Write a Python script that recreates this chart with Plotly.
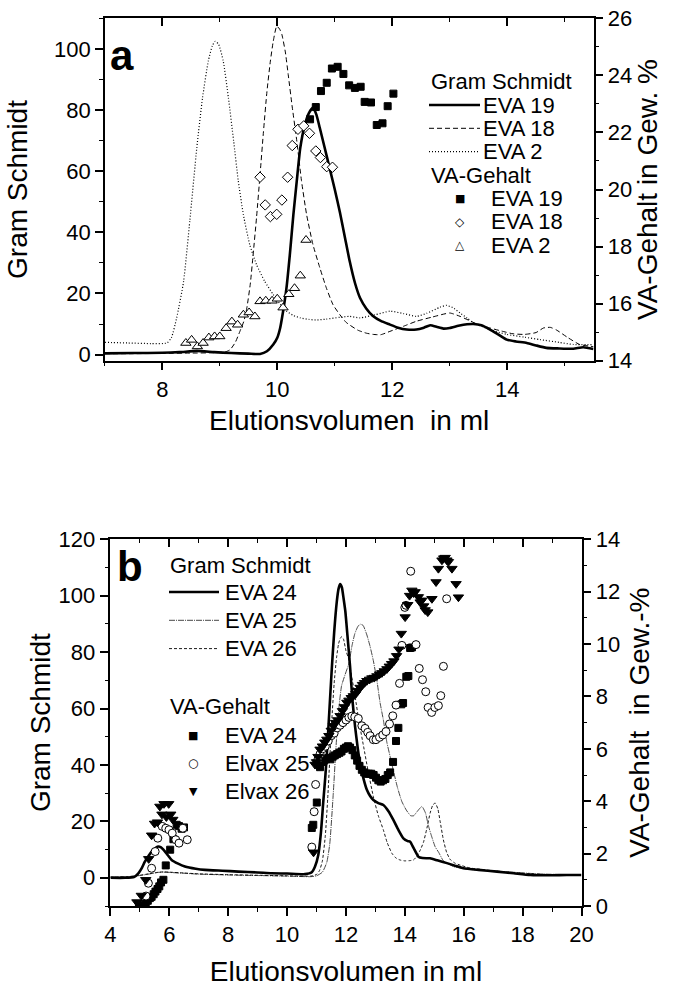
import plotly.graph_objects as go

W, H = 677, 987
FONT = "Arial, Liberation Sans, Helvetica, sans-serif"

# ---------------- Panel a : Gram Schmidt traces (left axis) ----------------
a_eva19_x = [7.0, 7.5, 8.0, 8.3, 8.6, 8.9, 9.2, 9.5, 9.7, 9.82, 9.93, 10.0, 10.05, 10.1, 10.16, 10.22,
             10.28, 10.34, 10.4, 10.48, 10.55, 10.62, 10.68, 10.74, 10.82, 10.91, 11.0, 11.09, 11.18,
             11.26, 11.35, 11.44, 11.55, 11.67, 11.8, 11.96, 12.1, 12.25, 12.42, 12.55, 12.66, 12.78,
             12.89, 13.0, 13.15, 13.3, 13.41, 13.55, 13.7, 13.85, 13.99, 14.15, 14.34, 14.5, 14.68,
             14.9, 15.15, 15.32, 15.5]
a_eva19_y = [0.4, 0.5, 0.6, 0.8, 1.2, 0.8, 0.5, 0.3, 0.2, 1.1, 3.3, 5.5, 8.7, 14.0, 21.8, 33.0,
             45.8, 57.0, 67.6, 75.2, 79.0, 80.7, 78.5, 74.1, 68.0, 61.0, 54.0, 46.5, 38.0,
             30.5, 23.5, 18.5, 15.0, 12.5, 11.0, 9.8, 8.8, 8.2, 8.2, 8.8, 9.6, 9.0,
             8.5, 8.7, 9.4, 9.9, 10.0, 9.6, 8.2, 6.5, 4.9, 4.3, 3.8, 3.0, 2.2,
             2.0, 1.9, 2.4, 1.8]

a_eva18_x = [7.0, 7.5, 8.0, 8.5, 8.9, 9.1, 9.18, 9.27, 9.35, 9.42, 9.47, 9.53, 9.58, 9.64, 9.7, 9.76,
             9.82, 9.88, 9.93, 9.99, 10.04, 10.08, 10.14, 10.19, 10.26, 10.34, 10.42, 10.51, 10.62,
             10.74, 10.85, 10.97, 11.09, 11.2, 11.4, 11.55, 11.67, 11.8, 11.96, 12.2, 12.42, 12.7,
             13.0, 13.18, 13.45, 13.7, 13.9, 14.1, 14.3, 14.5, 14.63, 14.75, 14.86, 15.05, 15.26, 15.5]
a_eva18_y = [0.3, 0.3, 0.4, 0.5, 0.6, 0.9, 1.6, 4.0, 7.6, 11.0, 15.2, 23.0, 32.7, 45.0, 58.8, 73.0,
             86.0, 96.0, 102.5, 107.4, 106.5, 104.7, 99.0, 91.6, 81.0, 69.8, 57.0, 45.8, 36.0,
             28.4, 22.0, 16.3, 13.0, 10.5, 8.0, 7.0, 6.6, 6.5, 7.6, 9.3, 10.9, 12.3,
             13.6, 12.5, 10.2, 8.7, 7.7, 6.8, 6.6, 7.2, 8.7, 8.9, 8.0, 5.6, 3.3, 2.6]

a_eva2_x = [7.0, 7.4, 7.8, 8.08, 8.16, 8.25, 8.37, 8.48, 8.6, 8.7, 8.8, 8.87, 8.92, 8.98, 9.06, 9.15,
            9.24, 9.32, 9.41, 9.52, 9.64, 9.78, 9.93, 10.05, 10.16, 10.28, 10.4, 10.55, 10.68, 10.85,
            11.09, 11.26, 11.44, 11.7, 11.96, 12.2, 12.42, 12.6, 12.83, 12.94, 13.05, 13.18, 13.3,
            13.41, 13.7, 13.99, 14.3, 14.57, 14.9, 15.15, 15.5]
a_eva2_y = [4.0, 3.8, 3.6, 3.8, 5.6, 12.0, 23.9, 44.0, 67.6, 84.0, 96.0, 101.0, 102.5, 101.5, 96.0, 84.0,
            70.0, 57.0, 45.8, 36.0, 29.4, 24.0, 19.6, 16.5, 14.2, 12.8, 12.0, 11.5, 11.3, 11.6,
            12.2, 12.5, 12.0, 13.0, 14.2, 13.4, 12.5, 13.5, 15.5, 16.1, 15.4, 13.6, 12.0,
            10.4, 8.2, 6.6, 5.7, 4.9, 4.0, 3.3, 3.3]

# ---------------- Panel a : VA-Gehalt (right axis) ----------------
a_va19_x = [10.57, 10.67, 10.76, 10.86, 10.95, 11.05, 11.15, 11.25, 11.35, 11.45, 11.52, 11.63,
            11.73, 11.83, 11.92, 12.02]
a_va19_y = [22.46, 22.89, 23.45, 23.74, 24.24, 24.30, 24.05, 23.65, 23.56, 23.60, 23.07, 23.05,
            22.26, 22.32, 22.92, 23.36]

a_va18_x = [9.70, 9.79, 9.88, 9.99, 10.08, 10.18, 10.26, 10.36, 10.46, 10.56, 10.67, 10.75, 10.86, 10.96]
a_va18_y = [20.43, 19.46, 19.05, 19.13, 19.63, 20.43, 21.54, 22.11, 22.23, 21.97, 21.35, 21.12, 20.80, 20.78]

a_va2_x = [8.41, 8.51, 8.61, 8.71, 8.81, 8.91, 9.00, 9.11, 9.21, 9.31, 9.41, 9.51, 9.61, 9.70, 9.80,
           9.91, 10.00, 10.10, 10.20, 10.30, 10.40, 10.50]
a_va2_y = [14.62, 14.73, 14.50, 14.62, 14.81, 14.85, 14.85, 15.14, 15.37, 15.26, 15.61, 15.69, 15.55,
           16.08, 16.10, 16.10, 16.17, 15.86, 16.33, 16.54, 16.98, 18.23]

# ---------------- Panel b : Gram Schmidt traces (left axis) ----------------
b_eva24_x = [4.0, 4.5, 4.8, 4.95, 5.07, 5.17, 5.3, 5.4, 5.52, 5.62, 5.72, 5.8, 5.95, 6.08, 6.3, 6.53,
             6.9, 7.21, 7.8, 8.34, 9.0, 9.48, 10.0, 10.61, 10.84, 10.95, 11.06, 11.15, 11.23, 11.3,
             11.35, 11.43, 11.52, 11.6, 11.69, 11.75, 11.8, 11.86, 11.92, 11.98, 12.05, 12.14, 12.22,
             12.31, 12.4, 12.48, 12.6, 12.71, 12.82, 12.93, 13.1, 13.27, 13.45, 13.61, 13.78, 13.95,
             14.1, 14.18, 14.3, 14.46, 14.6, 14.86, 15.1, 15.43, 15.7, 15.99, 16.5, 17.13, 17.7,
             18.26, 19.0, 19.5, 20.0]
b_eva24_y = [0.0, 0.0, 0.3, 1.6, 3.5, 5.7, 7.8, 9.3, 10.5, 11.1, 10.8, 10.0, 8.0, 6.3, 5.0, 4.0,
             3.2, 2.8, 2.5, 2.2, 1.9, 1.6, 1.5, 1.3, 2.0, 4.0, 8.1, 16.0, 27.0, 36.0,
             43.6, 58.0, 74.3, 87.0, 98.0, 102.5, 104.1, 103.0, 99.0, 94.4, 86.0, 74.9, 63.0,
             53.6, 46.0, 40.6, 35.0, 31.2, 29.0, 27.6, 26.5, 25.8, 23.5, 20.5, 17.0, 14.0,
             13.0, 12.8, 10.5, 7.5, 7.0, 6.9, 6.2, 5.2, 4.3, 3.4, 2.8, 2.2, 1.6,
             1.0, 0.9, 1.0, 1.0]

b_eva25_x = [4.0, 4.6, 5.0, 5.3, 5.6, 5.8, 6.0, 6.5, 7.0, 8.0, 9.0, 10.0, 10.8, 11.0, 11.2, 11.35,
             11.45, 11.57, 11.66, 11.74, 11.85, 11.97, 12.1, 12.2, 12.3, 12.4, 12.48, 12.58, 12.71,
             12.82, 12.93, 13.05, 13.16, 13.27, 13.39, 13.5, 13.61, 13.75, 13.9, 14.05, 14.2, 14.3,
             14.42, 14.58, 14.7, 14.8, 14.9, 15.03, 15.15, 15.31, 15.5, 15.65, 15.9, 16.5, 17.5,
             18.5, 19.5, 20.0]
b_eva25_y = [0.3, 0.4, 0.8, 1.3, 1.9, 2.0, 1.9, 1.6, 1.3, 1.0, 0.8, 0.6, 0.4, 0.7, 2.0, 5.5,
             12.0, 30.0, 46.0, 58.0, 68.0, 72.0, 76.0, 82.0, 86.5, 89.0, 89.9, 89.5, 86.1,
             82.0, 77.0, 70.0, 62.0, 56.0, 48.0, 43.0, 38.0, 32.0, 27.0, 24.0, 22.0, 22.0,
             23.5, 25.3, 23.0, 18.5, 15.0, 11.0, 9.0, 6.0, 4.8, 4.0, 3.4, 2.7, 2.1,
             1.4, 1.1, 1.0]

b_eva26_x = [4.0, 4.6, 5.0, 5.3, 5.6, 5.8, 6.0, 6.5, 7.0, 8.0, 9.0, 10.0, 10.8, 11.0, 11.1, 11.2,
             11.3, 11.38, 11.45, 11.52, 11.6, 11.68, 11.75, 11.81, 11.86, 11.92, 12.0, 12.08, 12.2,
             12.31, 12.45, 12.6, 12.75, 12.93, 13.1, 13.27, 13.4, 13.56, 13.7, 13.84, 14.0, 14.18,
             14.29, 14.4, 14.5, 14.63, 14.75, 14.86, 14.95, 15.03, 15.12, 15.2, 15.31, 15.42, 15.54,
             15.7, 15.88, 16.2, 17.0, 18.0, 19.0, 20.0]
b_eva26_y = [0.2, 0.4, 0.9, 1.4, 1.9, 2.1, 2.0, 1.7, 1.4, 1.1, 0.9, 0.7, 0.6, 1.2, 2.5, 6.0,
             15.0, 28.0, 42.0, 56.0, 69.0, 78.0, 83.0, 85.0, 85.5, 84.5, 80.5, 78.0, 71.0,
             64.3, 55.0, 46.5, 38.0, 28.8, 22.0, 17.0, 12.5, 8.7, 7.0, 6.3, 6.0, 6.1,
             6.3, 7.5, 9.3, 12.5, 17.6, 23.0, 25.8, 26.5, 24.5, 19.9, 13.4, 9.0, 6.5,
             5.2, 4.5, 3.5, 2.5, 1.6, 1.1, 1.0]

# ---------------- Panel b : VA-Gehalt (right axis) ----------------
b_va24_x = [4.97, 5.05, 5.12, 5.2, 5.27, 5.34, 5.4, 5.47, 5.53, 5.6, 5.66, 5.72, 5.8, 5.88, 6.03,
            6.14, 6.25, 6.33, 6.42, 6.5,
            10.84, 10.89, 11.01, 11.12, 11.18, 11.25, 11.32, 11.4, 11.47, 11.55, 11.62, 11.7, 11.78,
            11.85, 11.93, 12.0, 12.07, 12.14, 12.22, 12.3, 12.38, 12.46, 12.54, 12.62, 12.7, 12.78,
            12.86, 12.94, 13.02, 13.1, 13.18, 13.26, 13.34, 13.42, 13.5, 13.6, 13.7, 13.78, 13.88,
            13.94, 14.05, 14.12, 14.18, 14.24]
b_va24_y = [0.0, 0.0, 0.05, 0.1, 0.2, 0.3, 0.35, 0.45, 0.55, 0.65, 0.75, 0.9, 1.0, 1.55, 2.15,
            2.55, 3.1, 3.05, 2.95, 3.0,
            2.98, 3.1, 3.95, 5.3, 5.5, 5.55, 5.6, 5.65, 5.6, 5.7, 5.75, 5.8, 5.85,
            5.9, 6.0, 6.05, 6.1, 6.05, 5.95, 5.75, 5.55, 5.35, 5.2, 5.1, 5.05, 5.05,
            5.05, 5.0, 4.9, 4.8, 4.75, 4.8, 4.85, 5.0, 5.1, 5.5, 6.3, 6.8, 7.7,
            7.75, 8.75, 8.78, 9.85, 9.87]

b_va25_x = [5.21, 5.29, 5.40, 5.52, 5.61, 5.76, 5.88, 5.99, 6.1, 6.22, 6.33, 6.46, 6.61,
            10.84, 10.92, 10.97, 11.05, 11.12, 11.2, 11.3, 11.4, 11.5, 11.6, 11.7, 11.8, 11.9, 12.0,
            12.1, 12.2, 12.3, 12.42, 12.54, 12.65, 12.74, 12.82, 12.93, 13.02, 13.14, 13.25, 13.36,
            13.48, 13.59, 13.7, 13.82, 13.9, 14.0, 14.04, 14.2, 14.38, 14.49, 14.6, 14.71, 14.79,
            14.91, 15.02, 15.14, 15.22, 15.31, 15.42]
b_va25_y = [0.38, 0.87, 1.44, 2.08, 2.59, 3.04, 2.97, 2.91, 2.78, 2.53, 2.4, 2.97, 2.53,
            2.25, 3.6, 4.64, 5.6, 5.8, 6.0, 6.1, 6.3, 6.5, 6.6, 6.8, 6.9, 7.0, 7.1,
            7.2, 7.25, 7.22, 7.16, 6.88, 6.78, 6.63, 6.5, 6.35, 6.35, 6.44, 6.53, 6.66,
            6.95, 7.26, 7.67, 8.5, 9.95, 11.4, 11.48, 12.78, 9.98, 9.07, 8.64, 8.18, 7.58,
            7.39, 7.58, 7.65, 8.03, 9.15, 11.73]

b_va26_x = [4.9, 5.05, 5.2, 5.3, 5.4, 5.5, 5.6, 5.68, 5.75, 5.82, 5.9, 5.98, 6.05, 6.12,
            10.9, 10.95, 11.0, 11.05, 11.12, 11.2, 11.28, 11.35, 11.42, 11.5, 11.57, 11.65, 11.72,
            11.8, 11.88, 11.95, 12.03, 12.1, 12.18, 12.25, 12.33, 12.4, 12.48, 12.56, 12.63, 12.71,
            12.8, 12.88, 12.96, 13.05, 13.14, 13.22, 13.3, 13.39, 13.47, 13.55, 13.63, 13.72, 13.8,
            13.88, 14.01, 14.1, 14.16, 14.24, 14.3, 14.35, 14.46, 14.52, 14.58, 14.64, 14.69, 14.78,
            14.92, 15.06, 15.14, 15.26, 15.32, 15.37, 15.43, 15.48, 15.6, 15.74, 15.82]
b_va26_y = [0.15, 0.4, 1.0, 1.8, 2.7, 3.15, 3.2, 3.8, 3.5, 3.9, 3.4, 3.9, 3.5, 3.3,
            2.05, 5.4, 5.5, 5.7, 5.98, 6.1, 6.25, 6.36, 6.5, 6.7, 6.88, 7.0, 7.1,
            7.26, 7.45, 7.6, 7.77, 7.85, 7.95, 8.02, 8.1, 8.22, 8.34, 8.45, 8.52, 8.6,
            8.65, 8.7, 8.72, 8.78, 8.85, 8.9, 8.97, 9.05, 9.15, 9.25, 9.35, 9.55, 9.8,
            10.4, 11.03, 11.5, 11.85, 12.05, 11.95, 11.99, 11.8, 11.6, 11.67, 11.45, 11.3, 11.22,
            11.73, 12.37, 12.88, 13.2, 13.28, 13.3, 13.2, 13.14, 12.88, 12.3, 11.79]

# ---------------- text ----------------
a_gs_names = ["EVA 19", "EVA 18", "EVA 2"]
a_va_names = ["EVA 19", "EVA 18", "EVA 2"]
b_gs_names = ["EVA 24", "EVA 25", "EVA 26"]
b_va_names = ["EVA 24", "Elvax 25", "Elvax 26"]

fig = go.Figure()


def add_line(x, y, xa, ya, width, dash, color="black"):
    fig.add_trace(go.Scatter(x=x, y=y, xaxis=xa, yaxis=ya, mode="lines",
                             line=dict(color=color, width=width, dash=dash, shape="spline", smoothing=0.5),
                             showlegend=False, hoverinfo="skip"))


def add_markers(x, y, xa, ya, symbol, size, filled=True):
    fig.add_trace(go.Scatter(x=x, y=y, xaxis=xa, yaxis=ya, mode="markers",
                             marker=dict(symbol=symbol, size=size,
                                         color="black" if filled else "white",
                                         line=dict(color="black", width=1)),
                             showlegend=False, hoverinfo="skip", cliponaxis=True))


# panel a
add_line(a_eva2_x, a_eva2_y, "x", "y", 1.2, "1px,2px")
add_line(a_eva18_x, a_eva18_y, "x", "y", 1.0, "5px,3px")
add_line(a_eva19_x, a_eva19_y, "x", "y", 2.6, "solid")
add_markers(a_va2_x, a_va2_y, "x", "y2", "triangle-up", 9, filled=False)
add_markers(a_va18_x, a_va18_y, "x", "y2", "diamond", 8, filled=False)
add_markers(a_va19_x, a_va19_y, "x", "y2", "square", 7)
# panel b
add_line(b_eva25_x, b_eva25_y, "x2", "y3", 0.9, "6px,1px,1px,1px", color="#333333")
add_line(b_eva26_x, b_eva26_y, "x2", "y3", 0.9, "3px,2px")
add_line(b_eva24_x, b_eva24_y, "x2", "y3", 2.6, "solid")
add_markers(b_va24_x, b_va24_y, "x2", "y4", "square", 7)
add_markers(b_va25_x, b_va25_y, "x2", "y4", "circle", 8, filled=False)
add_markers(b_va26_x, b_va26_y, "x2", "y4", "triangle-down", 9)
# empty traces so that the mirrored top axes are drawn
fig.add_trace(go.Scatter(x=[], y=[], xaxis="x3", yaxis="y", showlegend=False))
fig.add_trace(go.Scatter(x=[], y=[], xaxis="x4", yaxis="y3", showlegend=False))


def px(v):
    return v / W


def py(v):
    return 1 - v / H


tickfont = dict(family=FONT, size=22, color="black")
titlefont = dict(family=FONT, size=28, color="black")


def axis(rng, dtick, mdtick, ticks="outside", ticklen=8, **kw):
    d = dict(range=rng, tickmode="linear", tick0=0, dtick=dtick, showline=True, linecolor="black",
             linewidth=1.5, ticks=ticks, ticklen=ticklen, tickwidth=1.5, tickcolor="black",
             showgrid=False, zeroline=False, tickfont=tickfont, automargin=False,
             minor=dict(ticks=ticks, ticklen=4, tickwidth=1.2, tickcolor="black", dtick=mdtick,
                        tick0=0, showgrid=False))
    d.update(kw)
    return d


a_xdom = [px(104.8), px(593.5)]
a_ydom = [py(360.7), py(18.3)]
b_xdom = [px(110.4), px(581.5)]
b_ydom = [py(906.0), py(539.3)]

fig.update_layout(
    width=W, height=H, template="none", paper_bgcolor="white", plot_bgcolor="white",
    margin=dict(l=0, r=0, t=0, b=0), showlegend=False,
    font=dict(family=FONT, color="black"),
    xaxis=axis([7, 15.5], 2, 1, domain=a_xdom, anchor="y",
               title=dict(text="Elutionsvolumen\u00a0 in ml", font=titlefont, standoff=10)),
    yaxis=axis([-2, 110], 20, 10, domain=a_ydom, anchor="x",
               title=dict(text="Gram Schmidt", font=titlefont, standoff=18)),
    yaxis2=axis([14, 26], 2, 1, domain=a_ydom, anchor="x", overlaying="y", side="right",
                title=dict(text="VA-Gehalt in Gew. %", font=titlefont, standoff=6)),
    xaxis3=axis([7, 15.5], 2, 1, ticks="inside", domain=a_xdom, anchor="y", overlaying="x",
                side="top", showticklabels=False),
    xaxis2=axis([4, 20], 2, 1, domain=b_xdom, anchor="y3",
                title=dict(text="Elutionsvolumen in ml", font=titlefont, standoff=15)),
    yaxis3=axis([-10, 120], 20, 10, ticklen=9, domain=b_ydom, anchor="x2",
                title=dict(text="Gram Schmidt", font=titlefont, standoff=0)),
    yaxis4=axis([0, 14], 2, 1, domain=b_ydom, anchor="x2", overlaying="y3", side="right",
                title=dict(text="VA-Gehalt\u00a0 in Gew.-%", font=titlefont, standoff=10)),
    xaxis4=axis([4, 20], 2, 1, ticks="inside", domain=b_xdom, anchor="y3", overlaying="x2",
                side="top", showticklabels=False),
)

annotations = []
shapes = []


def text(s, x, y, size=21, xanchor="left", bold=False, family=FONT):
    annotations.append(dict(text=f"<b>{s}</b>" if bold else s, x=px(x), y=py(y), xref="paper",
                            yref="paper", xanchor=xanchor, yanchor="middle", showarrow=False,
                            font=dict(family=family, size=size, color="black")))


def sample(x0, x1, y, width, dash, color="black"):
    shapes.append(dict(type="line", xref="paper", yref="paper", x0=px(x0), x1=px(x1), y0=py(y),
                       y1=py(y), line=dict(color=color, width=width, dash=dash)))


# panel labels
text("a", 108, 56, size=42, bold=True)
text("b", 115, 566, size=42, bold=True)

# legend panel a
a_rows = [81.7, 105, 128.3, 151.7, 175, 198.3, 221.7, 245]
text("Gram Schmidt", 429, a_rows[0], size=22)
a_styles = [(2.6, "solid"), (1.0, "5px,3px"), (1.2, "1px,2px")]
for i, nm in enumerate(a_gs_names):
    w, d = a_styles[i]
    sample(429, 480, a_rows[1 + i], w, d)
    text(nm, 481, a_rows[1 + i], size=22)
text("VA-Gehalt", 429, a_rows[4], size=22)
a_glyphs = [("\u25A0", 11), ("\u25C7", 12), ("\u25B3", 12)]
for i, nm in enumerate(a_va_names):
    g, s = a_glyphs[i]
    text(g, 460, a_rows[5 + i], size=s, xanchor="center", family="DejaVu Sans")
    text(nm, 489, a_rows[5 + i], size=22)

# legend panel b
b_rows = [565, 592, 620.3, 648.6, 706.7, 735, 763.3, 791.7]
text("Gram Schmidt", 168, b_rows[0], size=22)
b_styles = [(2.6, "solid", "black"), (0.9, "6px,1px,1px,1px", "#333333"), (0.9, "3px,2px", "black")]
for i, nm in enumerate(b_gs_names):
    w, d, c = b_styles[i]
    sample(169, 219, b_rows[1 + i], w, d, c)
    text(nm, 223, b_rows[1 + i], size=22)
text("VA-Gehalt", 168, b_rows[4], size=22)
b_glyphs = [("\u25A0", 11), ("\u25CB", 12), ("\u25BC", 11)]
for i, nm in enumerate(b_va_names):
    g, s = b_glyphs[i]
    text(g, 193, b_rows[5 + i], size=s, xanchor="center", family="DejaVu Sans")
    text(nm, 223, b_rows[5 + i], size=22)

fig.update_layout(annotations=annotations, shapes=shapes)
fig.write_html("out.html")
